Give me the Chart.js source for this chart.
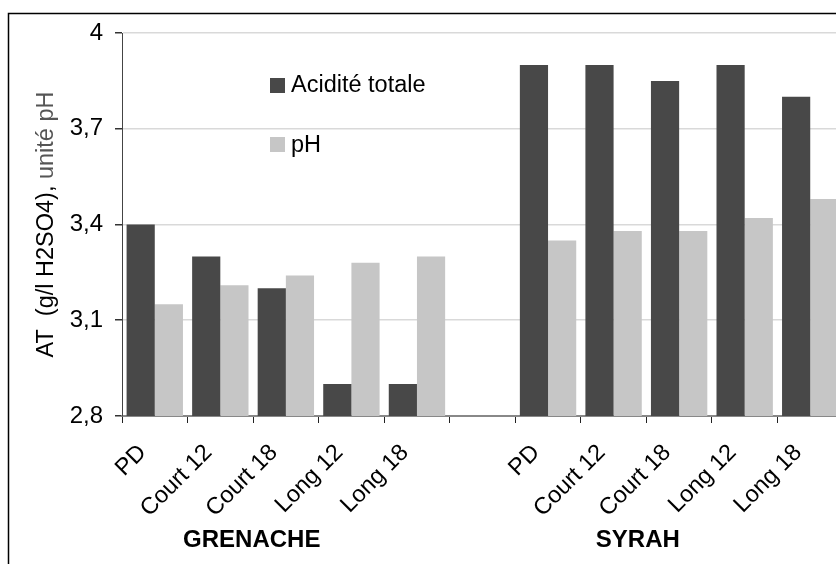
<!DOCTYPE html>
<html>
<head>
<meta charset="utf-8">
<script src="https://cdn.jsdelivr.net/npm/chart.js@4"></script>
<style>
html,body{margin:0;padding:0;background:#fff;overflow:hidden;}
#wrap{width:860px;height:564px;}
</style>
</head>
<body>
<div id="wrap"><canvas id="c" width="860" height="564"></canvas></div>
<script>
const categories = ['PD','Court 12','Court 18','Long 12','Long 18','','PD','Court 12','Court 18','Long 12','Long 18'];
const aciditeTotale = [3.4, 3.3, 3.2, 2.9, 2.9, null, 3.9, 3.9, 3.85, 3.9, 3.8];
const pH = [3.15, 3.21, 3.24, 3.28, 3.3, null, 3.35, 3.38, 3.38, 3.42, 3.48];
const yTicks = [2.8, 3.1, 3.4, 3.7, 4];
const groupLabels = ['GRENACHE', 'SYRAH'];
const groupPos = [1.48, 7.37];
const seriesNames = ['Acidité totale', 'pH'];
const yTitleParts = ['AT  (g/l H2SO4), ', 'unité pH'];

const FONT = '"Liberation Sans", Arial, sans-serif';

const decor = {
  id: 'decor',
  afterDraw(chart) {
    const ctx = chart.ctx;
    const xs = chart.scales.x;
    ctx.save();
    // outer frame
    ctx.strokeStyle = '#000';
    ctx.lineWidth = 1.5;
    ctx.strokeRect(8.5, 13.5, 1200, 1200);
    // legend
    const legendItems = [
      {label: seriesNames[0], color: chart.data.datasets[0].backgroundColor, y: 78, base: 92},
      {label: seriesNames[1], color: chart.data.datasets[1].backgroundColor, y: 137, base: 152}
    ];
    ctx.font = '23.5px ' + FONT;
    ctx.textAlign = 'left';
    ctx.textBaseline = 'alphabetic';
    legendItems.forEach(it => {
      ctx.fillStyle = it.color;
      ctx.fillRect(270, it.y, 15, 15);
      ctx.fillStyle = '#000';
      ctx.fillText(it.label, 291, it.base);
    });
    // group labels
    ctx.font = 'bold 24px ' + FONT;
    ctx.textAlign = 'center';
    groupLabels.forEach((g, i) => {
      ctx.fillText(g, xs.getPixelForValue(groupPos[i]), 547);
    });
    // y title
    const ya = chart.chartArea;
    ctx.translate(47, (ya.top + ya.bottom) / 2);
    ctx.rotate(-Math.PI / 2);
    ctx.font = '23.5px ' + FONT;
    ctx.textBaseline = 'middle';
    ctx.textAlign = 'left';
    const w0 = ctx.measureText(yTitleParts[0]).width;
    const w1 = ctx.measureText(yTitleParts[1]).width;
    const start = -(w0 + w1) / 2;
    ctx.fillStyle = '#000';
    ctx.fillText(yTitleParts[0], start, 0);
    ctx.fillStyle = '#555';
    ctx.fillText(yTitleParts[1], start + w0, 0);
    ctx.restore();
  }
};

new Chart(document.getElementById('c'), {
  type: 'bar',
  data: {
    labels: categories,
    datasets: [
      {label: seriesNames[0], data: aciditeTotale, backgroundColor: '#484848', borderWidth: 0,
       categoryPercentage: 0.86, barPercentage: 1.0},
      {label: seriesNames[1], data: pH, backgroundColor: '#c6c6c6', borderWidth: 0,
       categoryPercentage: 0.86, barPercentage: 1.0}
    ]
  },
  options: {
    responsive: false,
    animation: false,
    layout: {padding: {left: 0, top: 33, right: 17, bottom: 0}},
    plugins: {legend: {display: false}, tooltip: {enabled: false}},
    scales: {
      x: {
        afterFit(s) { s.height = 148; },
        grid: {display: true, drawOnChartArea: false, drawTicks: true, tickLength: 7, color: '#222', lineWidth: 1, offset: true},
        border: {display: true, color: '#888', width: 2},
        ticks: {
          autoSkip: false, maxRotation: 45, minRotation: 45,
          color: '#000', font: {family: FONT, size: 23.5}, padding: 16, labelOffset: -12
        }
      },
      y: {
        min: 2.8, max: 4,
        afterFit(s) { s.width = 122; },
        afterBuildTicks(s) { s.ticks = yTicks.map(v => ({value: v})); },
        grid: {color: '#d9d9d9', lineWidth: 1.5, tickColor: '#333', tickLength: 7, drawTicks: true},
        border: {display: true, color: '#444', width: 1},
        ticks: {
          color: '#000', font: {family: FONT, size: 24}, padding: 12,
          callback: v => String(v).replace('.', ',')
        }
      }
    }
  },
  plugins: [decor]
});
</script>
</body>
</html>
